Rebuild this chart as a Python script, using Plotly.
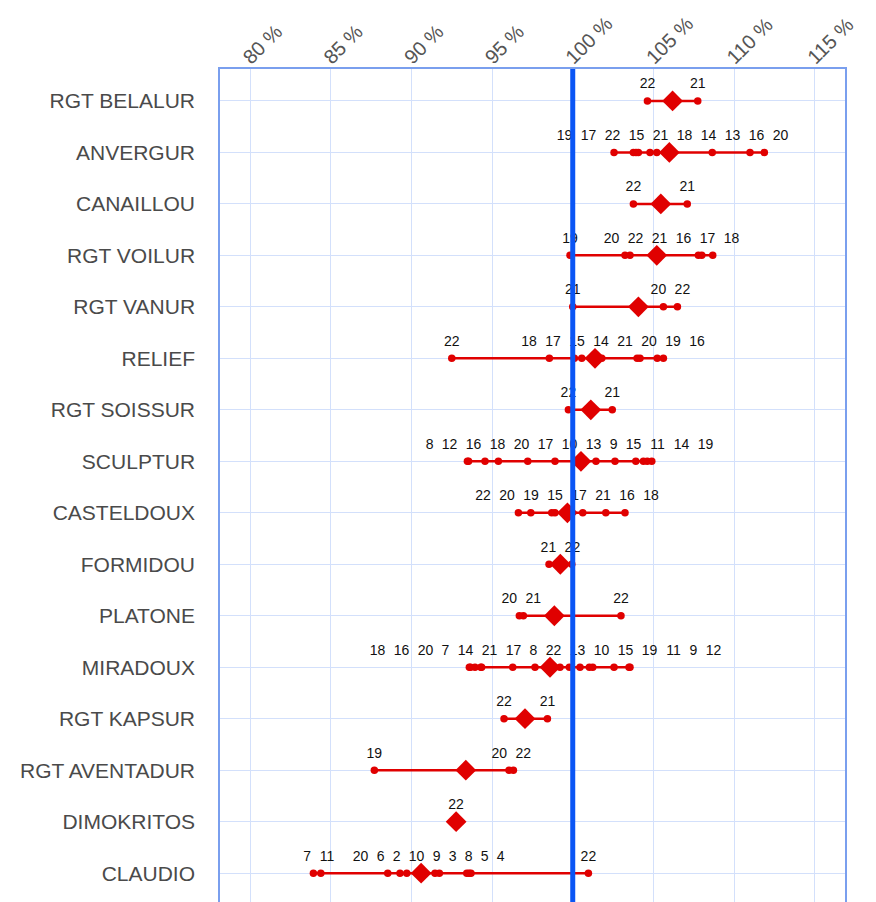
import plotly.graph_objects as go

# rows from top to bottom
categories = ["RGT BELALUR", "ANVERGUR", "CANAILLOU", "RGT VOILUR", "RGT VANUR",
              "RELIEF", "RGT SOISSUR", "SCULPTUR", "CASTELDOUX", "FORMIDOU",
              "PLATONE", "MIRADOUX", "RGT KAPSUR", "RGT AVENTADUR", "DIMOKRITOS",
              "CLAUDIO"]

# point labels (sorted left to right within each row)
point_labels = [
    [22, 21],
    [19, 17, 22, 15, 21, 18, 14, 13, 16, 20],
    [22, 21],
    [19, 20, 22, 21, 16, 17, 18],
    [21, 20, 22],
    [22, 18, 17, 15, 14, 21, 20, 19, 16],
    [22, 21],
    [8, 12, 16, 18, 20, 17, 10, 13, 9, 15, 11, 14, 19],
    [22, 20, 19, 15, 17, 21, 16, 18],
    [21, 22],
    [20, 21, 22],
    [18, 16, 20, 7, 14, 21, 17, 8, 22, 13, 10, 15, 19, 11, 9, 12],
    [22, 21],
    [19, 20, 22],
    [22],
    [7, 11, 20, 6, 2, 10, 9, 3, 8, 5, 4, 22],
]

# values in %
point_values = [
    [104.63, 107.75],
    [102.56, 103.76, 103.92, 104.07, 104.79, 105.21, 106.03, 108.65, 110.99, 111.88],
    [103.76, 107.10],
    [99.83, 103.24, 103.55, 105.47, 107.79, 108.00, 108.68],
    [100.00, 105.62, 106.49],
    [92.50, 98.55, 100.10, 100.56, 101.80, 103.99, 104.17, 105.24, 105.62],
    [99.73, 102.45],
    [93.47, 93.54, 94.56, 95.39, 97.21, 98.90, 100.51, 101.44, 102.62, 103.91, 104.38, 104.62, 104.90],
    [96.63, 97.40, 98.70, 98.90, 99.65, 100.62, 102.05, 103.24],
    [98.53, 99.94],
    [96.69, 96.94, 102.99],
    [93.59, 93.66, 93.94, 94.30, 94.35, 96.28, 97.66, 98.59, 99.21, 99.79, 100.45, 101.03, 101.24, 102.56, 103.49, 103.55],
    [95.74, 98.43],
    [87.70, 96.05, 96.32],
    [92.77],
    [83.92, 84.38, 88.53, 89.29, 89.71, 90.60, 91.46, 91.73, 93.43, 93.57, 93.69, 100.97],
]

averages = [106.19, 105.99, 105.46, 105.21, 104.07, 101.38, 101.12, 100.51, 99.67,
            99.23, 98.86, 98.59, 97.04, 93.37, 92.77, 90.60]

tick_vals = [80, 85, 90, 95, 100, 105, 110, 115]
tick_text = ["80 %", "85 %", "90 %", "95 %", "100 %", "105 %", "110 %", "115 %"]

# the page body adds an 8px margin, so the figure is a bit smaller than the window
WIDTH, HEIGHT = 868, 894
MARGIN = dict(l=212, r=31, t=61, b=0)
X_RANGE = [78.13, 116.88]
PLOT_W = WIDTH - MARGIN["l"] - MARGIN["r"]
RED = "#e00000"


def spread_labels(xs, texts):
    # push overlapping labels apart, keeping each group centred on its points
    scale = PLOT_W / (X_RANGE[1] - X_RANGE[0])
    w = [len(str(t)) * 8 / scale for t in texts]
    pad = 8 / scale

    def place(idx):
        offs = [0.0]
        for a, b in zip(idx, idx[1:]):
            offs.append(offs[-1] + (w[a] + w[b]) / 2 + pad)
        start = sum(xs[i] - o for i, o in zip(idx, offs)) / len(idx)
        return [start + o for o in offs]

    blocks = []
    for i in range(len(xs)):
        blocks.append([i])
        while len(blocks) > 1:
            prev, cur = blocks[-2], blocks[-1]
            p_prev, p_cur = place(prev), place(cur)
            need = (w[prev[-1]] + w[cur[0]]) / 2 + pad
            if p_cur[0] - p_prev[-1] < need:
                blocks[-2:] = [prev + cur]
            else:
                break
    out = []
    for b in blocks:
        out += place(b)
    return out


fig = go.Figure()

lab_x, lab_y, lab_t = [], [], []
for i, (vals, labs) in enumerate(zip(point_values, point_labels)):
    fig.add_trace(go.Scatter(
        x=vals, y=[i] * len(vals), mode="lines+markers",
        line=dict(color=RED, width=2.5),
        marker=dict(color=RED, size=7.5),
        hoverinfo="x"
    ))
    lab_x += spread_labels(vals, labs)
    lab_y += [i - 0.31] * len(labs)
    lab_t += [str(t) for t in labs]

fig.add_trace(go.Scatter(
    x=averages, y=list(range(len(categories))), mode="markers",
    marker=dict(symbol="diamond", color=RED, size=16, line=dict(width=0))
))

fig.add_trace(go.Scatter(
    x=lab_x, y=lab_y, mode="text", text=lab_t,
    textfont=dict(family="Arial, Liberation Sans", size=14, color="#111111"),
    hoverinfo="skip"
))

# 100 % reference line
fig.add_shape(type="line", xref="x", yref="paper", x0=100, x1=100, y0=0, y1=1,
              line=dict(color="#0a55f5", width=5), layer="above")

fig.update_layout(
    width=WIDTH, height=HEIGHT, margin=MARGIN,
    showlegend=False,
    paper_bgcolor="white", plot_bgcolor="white",
    font=dict(family="Arial, Liberation Sans"),
)

fig.update_xaxes(
    side="top", range=X_RANGE, tickvals=tick_vals, ticktext=tick_text,
    tickangle=-45, tickfont=dict(size=20, color="#555555"),
    showgrid=True, gridcolor="#d3e0fb", gridwidth=1,
    showline=True, linecolor="#7a9fee", linewidth=1.5, mirror=False,
    zeroline=False, ticks="", automargin=False,
    ticklabelstandoff=-9, ticklabelshift=-6
)

fig.update_yaxes(
    range=[15.56, -0.62], tickvals=list(range(len(categories))), ticktext=categories,
    tickfont=dict(size=21, color="#4a4a4a"),
    showgrid=True, gridcolor="#d3e0fb", gridwidth=1,
    showline=True, linecolor="#7a9fee", linewidth=1.5, mirror=True,
    zeroline=False, ticks="", ticklabelstandoff=19, automargin=False
)

fig.write_html("out.html")
